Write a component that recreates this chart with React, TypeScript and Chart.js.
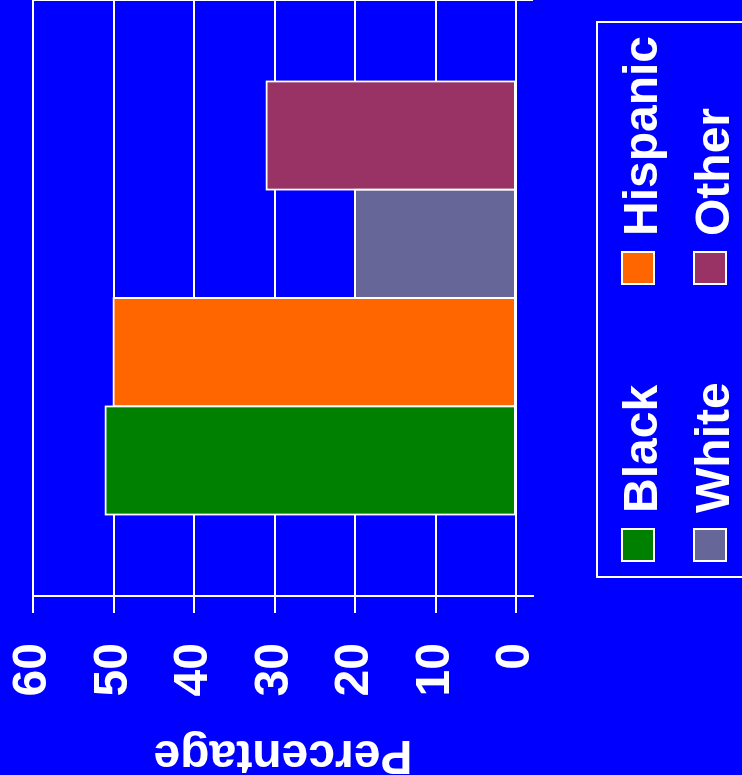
import React, { useEffect, useRef } from 'react';
import { Chart, registerables } from 'chart.js';

Chart.register(...registerables);

// Chart data
const groups = [''];
const seriesNames = ['Black', 'Hispanic', 'White', 'Other'];
const seriesValues = [51, 50, 20, 31];
const seriesColors = ['#008000', '#FF6600', '#666699', '#993366'];
const valueTicks = [0, 10, 20, 30, 40, 50, 60];
const valueMin = -2.1;
const valueMax = 60;
const axisTitle = 'Percentage';

const FONT = '"Liberation Sans", Arial, Helvetica, sans-serif';
const CANVAS_W = 775;
const CANVAS_H = 742;
const BG = '#0000FF';
const INK = '#FFFFFF';

// Paints the blue page background behind everything
const background = {
  id: 'background',
  beforeDraw(chart: any) {
    const { ctx, width, height } = chart;
    ctx.save();
    ctx.fillStyle = BG;
    ctx.fillRect(0, 0, width, height);
    ctx.restore();
  },
};

// Two-column legend inside a framed box under the plot
const boxedLegend = {
  id: 'boxedLegend',
  afterDraw(chart: any) {
    const { ctx, chartArea } = chart;
    const left = chartArea.left + 19;
    const right = chartArea.right - 22;
    const top = chartArea.bottom + 64;
    ctx.save();
    ctx.strokeStyle = INK;
    ctx.lineWidth = 2;
    ctx.strokeRect(left, top, right - left, 400);

    const colX = [left + 16, left + 293];
    const rowY = [top + 25, top + 97];
    ctx.font = `bold 48px ${FONT}`;
    ctx.textAlign = 'left';
    ctx.textBaseline = 'alphabetic';
    chart.data.datasets.forEach((ds: any, i: number) => {
      const x = colX[i % 2];
      const y = rowY[Math.floor(i / 2)];
      ctx.fillStyle = ds.backgroundColor;
      ctx.fillRect(x, y, 32, 32);
      ctx.strokeStyle = INK;
      ctx.lineWidth = 2;
      ctx.strokeRect(x, y, 32, 32);
      ctx.fillStyle = INK;
      ctx.fillText(ds.label, x + 48, y + 34.5);
    });
    ctx.restore();
  },
};

function BarChart() {
  const canvasRef = useRef<HTMLCanvasElement | null>(null);

  useEffect(() => {
    const canvas = canvasRef.current;
    if (!canvas) return;
    const chart = new Chart(canvas, {
      type: 'bar',
      data: {
        labels: groups,
        datasets: seriesNames.map((name, i) => ({
          label: name,
          data: [seriesValues[i]],
          backgroundColor: seriesColors[i],
          borderColor: INK,
          borderWidth: 2,
          borderSkipped: false,
          inflateAmount: 1,
          categoryPercentage: 0.727,
          barPercentage: 1,
        })),
      },
      options: {
        responsive: false,
        animation: false,
        devicePixelRatio: 1,
        layout: { padding: { top: 33, right: 0, bottom: 209, left: 0 } },
        plugins: {
          legend: { display: false },
          tooltip: { enabled: false },
        },
        scales: {
          x: {
            type: 'category',
            grid: { color: INK, lineWidth: 2, drawTicks: false, offset: true },
            border: { display: false },
            ticks: { display: false },
            afterFit: (s: any) => {
              s.height = 0;
              s.paddingLeft = 0;
              s.paddingRight = 0;
            },
          },
          y: {
            type: 'linear',
            min: valueMin,
            max: valueMax,
            afterBuildTicks: (s: any) => {
              s.ticks = valueTicks.map((v) => ({ value: v }));
            },
            afterFit: (s: any) => {
              s.width = 179;
              s.paddingTop = 0;
              s.paddingBottom = 0;
            },
            grid: { color: INK, lineWidth: 2, drawTicks: true, tickLength: 17, tickColor: INK },
            border: { display: true, color: INK, width: 2 },
            ticks: {
              color: INK,
              padding: 30,
              font: { family: FONT, size: 48, weight: 'bold' },
            },
            title: {
              display: true,
              text: axisTitle,
              color: INK,
              font: { family: FONT, size: 48, weight: 'bold', lineHeight: 1 },
              padding: { top: -3, bottom: 0 },
            },
          },
        },
      },
      plugins: [background, boxedLegend],
    } as any);
    return () => chart.destroy();
  }, []);

  return (
    <canvas
      ref={canvasRef}
      width={CANVAS_W}
      height={CANVAS_H}
      style={{ display: 'block', width: CANVAS_W, height: CANVAS_H }}
    />
  );
}

export default function App() {
  return (
    <div
      style={{
        position: 'fixed',
        left: 0,
        top: 0,
        width: CANVAS_W,
        height: CANVAS_H,
        background: BG,
        transformOrigin: '0 0',
        transform: `translate(0px, ${CANVAS_W}px) rotate(-90deg)`,
      }}
    >
      <BarChart />
    </div>
  );
}
